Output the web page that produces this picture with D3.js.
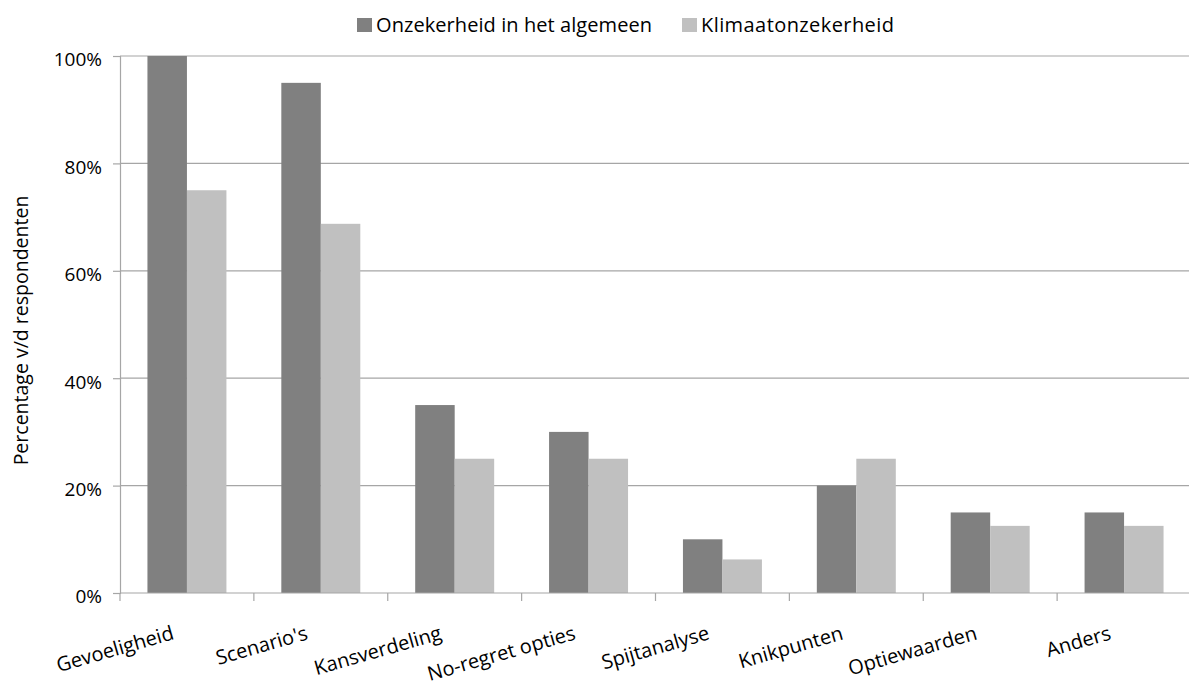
<!DOCTYPE html>
<html>
<head>
<meta charset="utf-8">
<script src="https://cdn.jsdelivr.net/npm/d3@7"></script>
<style>
  html, body { margin: 0; padding: 0; background: #fff; }
  svg { display: block; }
  text { font-family: "Open Sans", "Liberation Sans", sans-serif; fill: #000; }
</style>
</head>
<body>
<svg id="chart" width="1189" height="691"></svg>
<script>
// Methods used for dealing with uncertainty (share of respondents)
const categories = ["Gevoeligheid", "Scenario's", "Kansverdeling", "No-regret opties",
                    "Spijtanalyse", "Knikpunten", "Optiewaarden", "Anders"];
const seriesNames = ["Onzekerheid in het algemeen", "Klimaatonzekerheid"];
const algemeen = [100, 95, 35, 30, 10, 20, 15, 15];
const klimaat  = [75, 68.75, 25, 25, 6.25, 25, 12.5, 12.5];
const yTicks = [0, 20, 40, 60, 80, 100];
const colors = ["#808080", "#c0c0c0"];

const svg = d3.select("#chart");
const margin = { left: 120, right: 0, top: 56, bottom: 98 };
const W = 1189, H = 691;
const plotBottom = H - margin.bottom;

const x0 = d3.scaleBand()
  .domain(categories)
  .range([margin.left, 1191])
  .paddingInner(0.41)
  .paddingOuter(0.205);

const x1 = d3.scaleBand()
  .domain(seriesNames)
  .range([0, x0.bandwidth()]);

const y = d3.scaleLinear()
  .domain([0, 100])
  .range([plotBottom, margin.top]);

// horizontal gridlines
svg.append("g")
  .selectAll("line")
  .data(yTicks.filter(t => t > 0))
  .join("line")
  .attr("x1", margin.left).attr("x2", W)
  .attr("y1", d => y(d)).attr("y2", d => y(d))
  .attr("stroke", "#a6a6a6").attr("stroke-width", 1.2);

// y axis
const yAxis = svg.append("g")
  .attr("transform", `translate(${margin.left},0)`)
  .call(d3.axisLeft(y).tickValues(yTicks).tickFormat(d => d + "%").tickSize(7).tickPadding(11));
yAxis.select(".domain").attr("stroke", "#a6a6a6").attr("stroke-width", 1.2);
yAxis.selectAll(".tick line").attr("stroke", "#a6a6a6").attr("stroke-width", 1.2);
yAxis.selectAll(".tick text")
  .attr("font-family", "\"Open Sans\", sans-serif")
  .attr("font-size", 19).attr("fill", "#000")
  .attr("dy", "0.52em");

// bars
const rows = categories.map((c, i) => ({ cat: c, values: [algemeen[i], klimaat[i]] }));
svg.append("g")
  .selectAll("g")
  .data(rows)
  .join("g")
  .attr("transform", d => `translate(${x0(d.cat)},0)`)
  .selectAll("rect")
  .data(d => d.values.map((v, k) => ({ name: seriesNames[k], v, k })))
  .join("rect")
  .attr("x", d => x1(d.name))
  .attr("width", x1.bandwidth())
  .attr("y", d => y(d.v))
  .attr("height", d => y(0) - y(d.v))
  .attr("fill", d => colors[d.k]);

// x axis with ticks between categories
const boundaries = d3.range(categories.length + 1).map(i => margin.left + i * x0.step());
const xAxis = svg.append("g");
xAxis.append("line")
  .attr("x1", margin.left).attr("x2", W)
  .attr("y1", y(0)).attr("y2", y(0))
  .attr("stroke", "#a6a6a6").attr("stroke-width", 1.2);
xAxis.selectAll("line.tick")
  .data(boundaries)
  .join("line")
  .attr("class", "tick")
  .attr("x1", d => d).attr("x2", d => d)
  .attr("y1", y(0)).attr("y2", y(0) + 8)
  .attr("stroke", "#a6a6a6").attr("stroke-width", 1.2);
xAxis.selectAll("text")
  .data(categories)
  .join("text")
  .attr("text-anchor", "end")
  .attr("font-size", 20)
  .attr("transform", d => `translate(${x0(d) + x0.bandwidth() / 2 - 12},${y(0) + 46}) rotate(-16)`)
  .text(d => d);

// y axis title
svg.append("text")
  .attr("transform", `translate(28,${(margin.top + plotBottom) / 2 + 6}) rotate(-90)`)
  .attr("text-anchor", "middle")
  .attr("font-size", 19.5)
  .text("Percentage v/d respondenten");

// legend
const legendX = [357, 682];
const legendW = [276, 193];
const legend = svg.append("g")
  .selectAll("g")
  .data(seriesNames)
  .join("g")
  .attr("transform", (d, i) => `translate(${legendX[i]},18)`);
legend.append("rect")
  .attr("width", 15).attr("height", 14)
  .attr("fill", (d, i) => colors[i]);
legend.append("text")
  .attr("x", 19).attr("y", 14)
  .attr("font-size", 20)
  .attr("textLength", (d, i) => legendW[i])
  .attr("lengthAdjust", "spacing")
  .text(d => d);
</script>
</body>
</html>
